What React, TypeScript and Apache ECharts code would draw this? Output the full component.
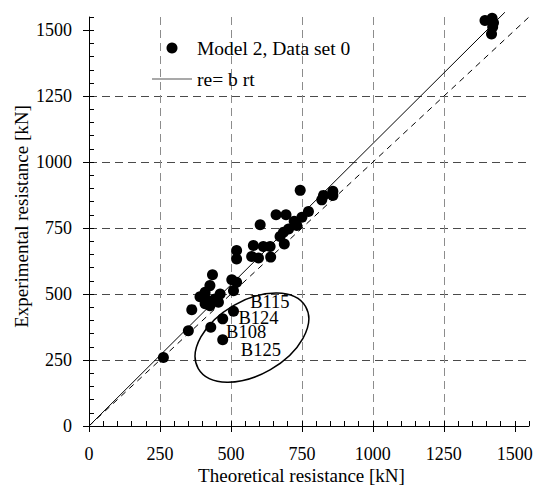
import React, { useEffect, useRef } from "react";
import * as echarts from "echarts";

// ---- data ----
const pointsX = [262, 350, 362, 391, 409, 426, 435, 415, 426, 444, 456, 462, 409, 503, 520, 509, 520, 520, 579, 573, 597, 614, 638, 640, 603, 659, 694, 673, 685, 688, 703, 723, 732, 750, 773, 744, 820, 826, 859, 859, 1395, 1420, 1425, 1422, 1418];
const pointsY = [260, 361, 441, 490, 507, 532, 573, 478, 456, 481, 469, 500, 463, 554, 545, 513, 665, 633, 684, 642, 637, 680, 680, 640, 763, 801, 801, 718, 734, 690, 747, 776, 760, 791, 813, 893, 857, 874, 890, 874, 1537, 1545, 1528, 1512, 1486];
const outlierX = [429, 471, 509, 471];
const outlierY = [374, 406, 435, 327];

const fitLineX = [0, 1465];
const fitLineY = [0, 1568];
const diagLineX = [0, 1565];
const diagLineY = [0, 1565];

const labelNames = ["B115", "B124", "B108", "B125"];
const labelX = [566, 525, 481, 533];
const labelY = [471, 408, 357, 288];

const ellipseCenter = [574, 335];

const majorTicks = [0, 250, 500, 750, 1000, 1250, 1500];

const seriesName = "Model 2, Data set 0";
const fitName = "re= b rt";
const xTitle = "Theoretical resistance [kN]";
const yTitle = "Experimental resistance [kN]";

const FONT = "Liberation Serif, serif";

export default function App() {
  const ref = useRef<HTMLDivElement>(null);
  useEffect(() => {
    if (!ref.current) return;
    const chart = echarts.init(ref.current, null, { renderer: "svg" });
    const zip = (a: number[], b: number[]) => a.map((v, i) => [v, b[i]]);
    const txt = { fontSize: 18, fontFamily: FONT, color: "#000" };
    const mainAxis = (dim: "x" | "y") => ({
      type: "value",
      min: 0,
      max: 1550,
      interval: 250,
      position: dim === "x" ? "bottom" : "left",
      axisLine: { show: true, onZero: false, lineStyle: { color: "#000", width: 1 } },
      axisTick: { show: true, inside: false, length: 6, lineStyle: { color: "#000" }, customValues: majorTicks },
      axisLabel: {
        show: true,
        ...txt,
        margin: dim === "x" ? 19 : 17,
        customValues: majorTicks,
        formatter: (v: number) => (v > 1500 ? "" : String(v)),
      },
      splitLine: {
        show: true,
        showMinLine: false,
        showMaxLine: false,
        lineStyle: { type: [8, 5], width: 1, color: dim === "x" ? "#8c8c8c" : "#4a4a4a" },
      },
      name: dim === "x" ? xTitle : yTitle,
      nameLocation: "middle",
      nameMoveOverlap: false,
      nameGap: dim === "x" ? 40 : 58,
      nameTextStyle: {
        ...txt,
        fontSize: 19,
        padding: dim === "x" ? [0, 15, 0, 0] : [0, 0, 0, 10],
      },
    });
    const minorAxis = (dim: "x" | "y") => ({
      type: "value",
      min: 0,
      max: 1550,
      interval: 50,
      position: dim === "x" ? "bottom" : "left",
      axisLine: { show: false, onZero: false },
      axisTick: { show: true, inside: true, length: 5, lineStyle: { color: "#000" } },
      axisLabel: { show: false },
      splitLine: { show: false },
    });

    chart.setOption({
      animation: false,
      backgroundColor: "#fff",
      textStyle: { fontFamily: FONT },
      grid: { left: 89, right: 10, top: 17, bottom: 60, containLabel: false, outerBoundsMode: "none" },
      legend: {
        orient: "vertical",
        left: 152,
        top: 38,
        padding: 0,
        itemWidth: 40,
        itemHeight: 11,
        itemGap: 11,
        textStyle: { ...txt, fontSize: 19.5 },
        data: [
          { name: seriesName, icon: "circle", itemStyle: { color: "#000", opacity: 1 } },
          { name: fitName, icon: "path://M0,0h40v1h-40z", itemStyle: { color: "#555", opacity: 1 } },
        ],
      },
      xAxis: [mainAxis("x"), minorAxis("x")],
      yAxis: [mainAxis("y"), minorAxis("y")],
      series: [
        {
          type: "line",
          name: fitName,
          data: zip(fitLineX, fitLineY),
          symbol: "none",
          clip: false,
          lineStyle: { color: "#000", width: 1 },
          itemStyle: { color: "#000" },
          z: 3,
          silent: true,
        },
        {
          type: "line",
          name: "y = x",
          data: zip(diagLineX, diagLineY),
          symbol: "none",
          clip: false,
          lineStyle: { color: "#000", width: 1, type: [6, 5] },
          z: 3,
          silent: true,
        },
        {
          type: "custom",
          name: "ellipse",
          data: [ellipseCenter],
          clip: false,
          silent: true,
          z: 4,
          renderItem: (_p: any, api: any) => {
            const c = api.coord([api.value(0), api.value(1)]);
            return {
              type: "ellipse",
              x: c[0],
              y: c[1],
              rotation: Math.PI / 6,
              shape: { cx: 0, cy: 0, rx: 62, ry: 37 },
              style: { fill: "none", stroke: "#000", lineWidth: 1.5 },
            };
          },
        },
        {
          type: "scatter",
          name: "labels",
          data: labelNames.map((n, i) => ({ name: n, value: [labelX[i], labelY[i]] })),
          symbolSize: 1,
          itemStyle: { color: "rgba(0,0,0,0)", opacity: 1 },
          silent: true,
          z: 6,
          label: {
            show: true,
            position: "right",
            distance: 0,
            formatter: "{b}",
            ...txt,
            fontSize: 18.5,
            opacity: 1,
          },
        },
        {
          type: "scatter",
          name: seriesName,
          data: zip(pointsX.concat(outlierX), pointsY.concat(outlierY)),
          symbol: "circle",
          symbolSize: 11,
          itemStyle: { color: "#000", opacity: 1 },
          z: 5,
          silent: true,
        },
      ],
    });
    return () => chart.dispose();
  }, []);
  return (
    <div
      ref={ref}
      style={{ position: "fixed", left: 0, top: 0, width: 539, height: 486, background: "#fff" }}
    />
  );
}
